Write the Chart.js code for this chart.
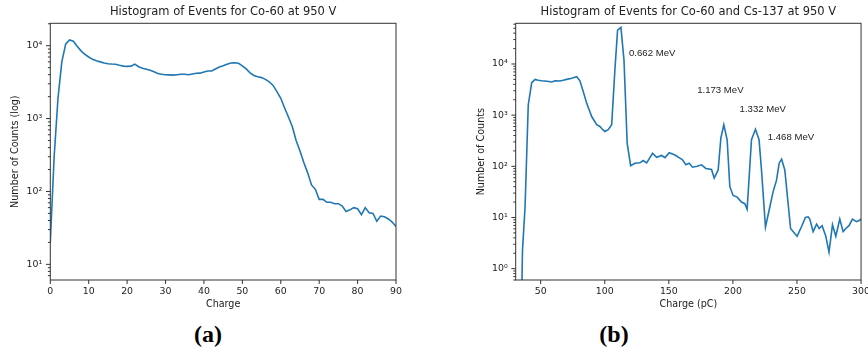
<!DOCTYPE html>
<html lang="en">
<head>
<meta charset="UTF-8">
<title>Histograms of Events</title>
<script src="https://cdn.jsdelivr.net/npm/chart.js"></script>
<style>
  html, body { margin: 0; padding: 0; background: #fff; overflow: hidden; width: 868px; height: 358px; }
  .panel { position: absolute; top: 0; }
  .caption { position: absolute; top: 322px; font: bold 24px "Liberation Serif", serif; line-height: 24px; color: #000; transform: translateX(-50%); }
</style>
</head>
<body>
<canvas id="chartA" class="panel" style="left:0" width="434" height="316"></canvas>
<canvas id="chartB" class="panel" style="left:434px" width="442" height="316"></canvas>
<div class="caption" style="left:208px">(a)</div>
<div class="caption" style="left:614px">(b)</div>
<script>
// (a) Co-60 only
const chargeA = [0, 1, 2, 3, 4, 5, 6, 7, 8, 9,
  10, 11, 12, 13, 14, 15, 16, 17, 18, 19,
  20, 21, 22, 23, 24, 25, 26, 27, 28, 29,
  30, 31, 32, 33, 34, 35, 36, 37, 38, 39,
  40, 41, 42, 43, 44, 45, 46, 47, 48, 49,
  50, 51, 52, 53, 54, 55, 56, 57, 58, 59,
  60, 61, 62, 63, 64, 65, 66, 67, 68, 69,
  70, 71, 72, 73, 74, 75, 76, 77, 78, 79,
  80, 81, 82, 83, 84, 85, 86, 87, 88, 89,
  90];
const countsA = [20, 300, 1900, 6000, 10500, 12000, 11500, 9800, 8500, 7600,
  7000, 6500, 6200, 6000, 5800, 5650, 5600, 5580, 5400, 5250,
  5200, 5250, 5600, 5150, 4900, 4750, 4600, 4400, 4150, 4050,
  4000, 3980, 3950, 4000, 4050, 4050, 4000, 4100, 4180, 4200,
  4350, 4500, 4500, 4800, 5100, 5300, 5550, 5800, 5850, 5750,
  5300, 4800, 4250, 3900, 3750, 3650, 3450, 3200, 2850, 2350,
  1900, 1400, 1050, 780, 500, 360, 250, 180, 123, 107,
  78, 78, 71, 71, 68, 68, 63, 53, 56, 60,
  58, 48, 60, 51, 50, 39, 46, 45, 42, 38,
  33];
const xTicksA = [0, 10, 20, 30, 40, 50, 60, 70, 80, 90];
const yTicksA = [10, 100, 1000, 10000];
const yTickLabelsA = ['10¹', '10²', '10³', '10⁴'];

// (b) Co-60 and Cs-137
const chargeB = [35.2, 35.8, 37.8, 40.3, 43.0, 45.6, 48.0, 50.8, 55.0, 58.6,
  61.2, 65.1, 67.5, 70.3, 74.2, 78.1, 80.6, 83.2, 85.9, 89.8,
  93.7, 96.2, 98.5, 100.1, 102.7, 105.4, 107.9, 110.0, 112.6, 115.0,
  117.5, 120.2, 123.5, 127.4, 130.0, 132.7, 137.3, 140.5, 144.4, 147.0,
  150.3, 154.8, 158.6, 160.5, 163.3, 165.9, 168.5, 172.1, 175.5, 178.9,
  183.3, 185.4, 188.5, 190.6, 192.9, 195.5, 197.6, 200.2, 203.3, 206.7,
  209.3, 211.1, 214.5, 217.6, 220.4, 222.3, 225.4, 228.8, 231.4, 234.0,
  236.1, 238.0, 240.5, 245.0, 250.1, 253.5, 256.6, 258.7, 260.0, 262.6,
  265.3, 267.3, 269.6, 272.5, 275.0, 277.7, 280.3, 283.4, 286.0, 288.1,
  290.6, 293.3, 296.4, 299.0, 300.0];
const countsB = [0.3, 2.3, 16, 1580, 4300, 5000, 4800, 4700, 4600, 4450,
  4700, 4650, 4800, 5000, 5250, 5650, 4700, 2900, 1700, 940,
  650, 600, 520, 480, 520, 650, 7600, 46000, 52000, 12000,
  280, 103, 115, 117, 130, 117, 180, 150, 163, 148,
  185, 166, 145, 135, 107, 115, 96, 100, 107, 91,
  87, 59, 85, 355, 650, 330, 40, 27, 25, 20,
  18.6, 14.5, 330, 530, 330, 85, 6.5, 16, 32, 53,
  115, 138, 85, 6.1, 4.3, 6.6, 10, 10.3, 9.3, 5.3,
  7.4, 6.1, 6.9, 4.3, 2.1, 7.2, 4.3, 9.3, 5.3, 6.1,
  6.9, 9.3, 8.3, 8.8, 9.5];
const xTicksB = [50, 100, 150, 200, 250, 300];
const yTicksB = [1, 10, 100, 1000, 10000];
const yTickLabelsB = ['10⁰', '10¹', '10²', '10³', '10⁴'];

const peakLabels = ['0.662 MeV', '1.173 MeV', '1.332 MeV', '1.468 MeV'];
const peakLabelX = [118.9, 172.1, 205.2, 227.2];
const peakLabelY = [16200, 3000, 1320, 375];

const textColor = '#222';
const lineColor = '#1f77b4';
Chart.defaults.font.family = '"DejaVu Sans", sans-serif';
Chart.defaults.color = textColor;

// log ticks: 1..9 per decade, labels only on the decades
function logTicks(min, max) {
  const out = [];
  for (let e = Math.floor(Math.log10(min)); e <= Math.ceil(Math.log10(max)); e++) {
    for (let m = 1; m < 10; m++) {
      const v = m * Math.pow(10, e);
      if (v >= min && v <= max) out.push({ value: v, major: m === 1 });
    }
  }
  return out;
}

// matplotlib-like box and tick marks
const frameTicks = {
  id: 'frameTicks',
  afterDraw(chart) {
    const { ctx, chartArea: a, scales: { x, y } } = chart;
    ctx.save();
    ctx.strokeStyle = '#333';
    ctx.lineWidth = 1;
    ctx.strokeRect(a.left, a.top, a.right - a.left, a.bottom - a.top);
    ctx.beginPath();
    x.ticks.forEach(t => {
      const px = x.getPixelForValue(t.value);
      ctx.moveTo(px, a.bottom);
      ctx.lineTo(px, a.bottom + 4);
    });
    y.ticks.forEach(t => {
      const py = y.getPixelForValue(t.value);
      ctx.moveTo(a.left, py);
      ctx.lineTo(a.left - (t.major ? 4.3 : 2.4), py);
    });
    ctx.stroke();
    ctx.restore();
  }
};

const peakText = {
  id: 'peakText',
  afterDatasetsDraw(chart) {
    if (chart.canvas.id !== 'chartB') return;
    const { ctx, scales: { x, y } } = chart;
    ctx.save();
    ctx.font = '9.6px "Liberation Sans", Arial, sans-serif';
    ctx.fillStyle = textColor;
    ctx.textBaseline = 'middle';
    peakLabels.forEach((s, i) => {
      ctx.fillText(s, x.getPixelForValue(peakLabelX[i]), y.getPixelForValue(peakLabelY[i]));
    });
    ctx.restore();
  }
};

function makeChart(id, o) {
  return new Chart(document.getElementById(id), {
    type: 'line',
    data: {
      datasets: [{
        data: o.xs.map((c, i) => ({ x: c, y: o.ys[i] })),
        borderColor: lineColor,
        borderWidth: 1.6,
        pointRadius: 0,
        tension: 0,
        fill: false
      }]
    },
    options: {
      responsive: false,
      animation: false,
      layout: { padding: { left: 0, right: o.padRight, top: 0, bottom: 0 } },
      plugins: {
        legend: { display: false },
        tooltip: { enabled: false },
        title: {
          display: true,
          fullSize: false,
          text: o.title,
          color: textColor,
          font: { size: 11.5, weight: 'normal' },
          padding: { top: 5, bottom: 4.5 }
        }
      },
      scales: {
        x: {
          type: 'linear',
          min: o.xMin,
          max: o.xMax,
          afterBuildTicks: s => { s.ticks = o.xTicks.map(v => ({ value: v })); },
          afterFit: s => { s.height = 36; },
          grid: { display: false, drawTicks: false },
          border: { display: false },
          ticks: { autoSkip: false, maxRotation: 0, padding: 6, font: { size: 9.4 } },
          title: { display: true, text: o.xTitle, font: { size: 9.6 }, padding: { top: 0, bottom: 6.2 } }
        },
        y: {
          type: 'logarithmic',
          min: o.yMin,
          max: o.yMax,
          afterBuildTicks: s => { s.ticks = logTicks(o.yMin, o.yMax); },
          afterFit: s => { s.width = o.yWidth; },
          grid: { display: false, drawTicks: false },
          border: { display: false },
          ticks: {
            autoSkip: false,
            padding: 8,
            font: { size: 9.4 },
            callback: v => {
              const k = o.yTicks.indexOf(v);
              return k >= 0 ? o.yLabels[k] : '';
            }
          },
          title: { display: true, text: o.yTitle, font: { size: 9.6 }, padding: { top: o.yTitlePad, bottom: 0 } }
        }
      }
    },
    plugins: [frameTicks, peakText]
  });
}

makeChart('chartA', {
  xs: chargeA, ys: countsA,
  title: 'Histogram of Events for Co-60 at 950 V',
  xTitle: 'Charge', yTitle: 'Number of Counts (log)',
  xMin: 0, xMax: 90, xTicks: xTicksA,
  yMin: 6.1, yMax: 20300, yTicks: yTicksA, yLabels: yTickLabelsA,
  yWidth: 50.3, yTitlePad: 10.2, padRight: 38
});

makeChart('chartB', {
  xs: chargeB, ys: countsB,
  title: 'Histogram of Events for Co-60 and Cs-137 at 950 V',
  xTitle: 'Charge (pC)', yTitle: 'Number of Counts',
  xMin: 30.5, xMax: 300, xTicks: xTicksB,
  yMin: 0.6, yMax: 62400, yTicks: yTicksB, yLabels: yTickLabelsB,
  yWidth: 81.7, yTitlePad: 41.5, padRight: 14.7
});
</script>
</body>
</html>
